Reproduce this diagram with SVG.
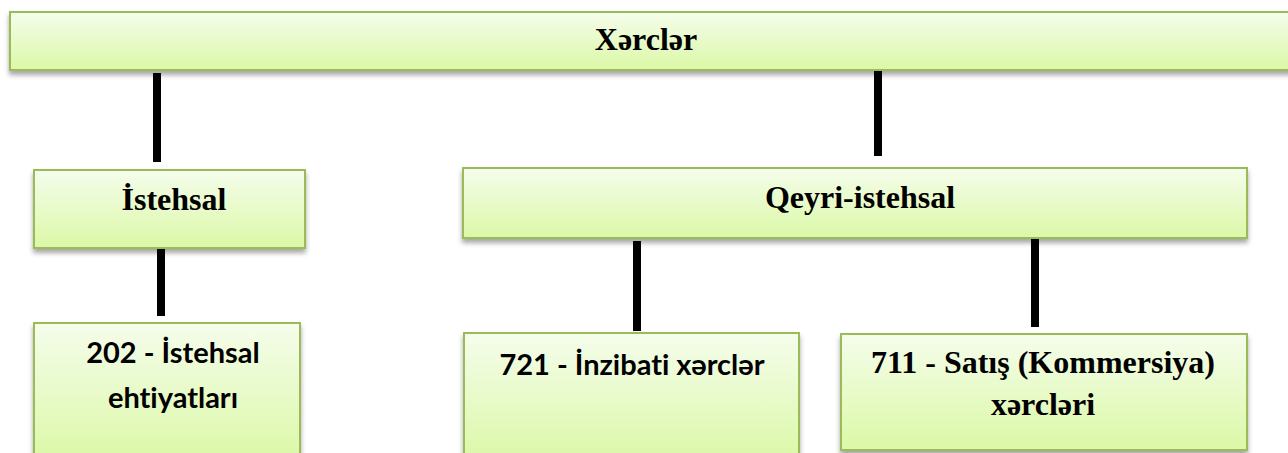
<svg xmlns="http://www.w3.org/2000/svg" width="1288" height="453" viewBox="0 0 1288 453">
<defs>
<linearGradient id="g" x1="0" y1="0" x2="0" y2="1">
<stop offset="0" stop-color="#f5fdec"/>
<stop offset="1" stop-color="#dbf8a6"/>
</linearGradient>
<filter id="sh" x="-5%" y="-20%" width="110%" height="150%">
<feDropShadow dx="0" dy="4" stdDeviation="2.5" flood-color="#000" flood-opacity="0.35"/>
</filter>
<style>
.box{fill:url(#g);stroke:#9bbb59;stroke-width:2;filter:url(#sh)}
.t{font-family:"Liberation Serif",serif;font-weight:bold;font-size:32px;fill:#000;text-anchor:middle}
.c{font-family:Lato,"Open Sans",sans-serif;font-weight:bold;font-size:29px;fill:#000;text-anchor:middle;font-variant-ligatures:none}
.ln{stroke:#000;stroke-width:8;fill:none}
</style>
</defs>
<g id="connectors">
<line class="ln" x1="157" y1="73" x2="157" y2="162"/>
<line class="ln" x1="878" y1="66" x2="878" y2="156"/>
<line class="ln" x1="161" y1="241" x2="161" y2="316"/>
<line class="ln" x1="637" y1="241" x2="637" y2="331"/>
<line class="ln" x1="1035" y1="238" x2="1035" y2="327"/>
</g>
<g id="n-xerclar">
<rect class="box" x="10" y="12" width="1290" height="58"/>
<text class="t" x="646" y="50">Xərclər</text>
</g>
<g id="n-istehsal">
<rect class="box" x="34" y="170" width="271" height="78"/>
<text class="t" x="174" y="210">İstehsal</text>
</g>
<g id="n-qeyri">
<rect class="box" x="463" y="168" width="784" height="70"/>
<text class="t" x="860" y="208">Qeyri-istehsal</text>
</g>
<g id="n-202">
<rect class="box" x="34" y="323" width="266" height="140"/>
<text class="c" x="173" y="363">202 - İstehsal</text>
<text class="c" x="173" y="408">ehtiyatları</text>
</g>
<g id="n-721">
<rect class="box" x="464" y="333" width="335" height="130"/>
<text class="c" x="632" y="375">721 - İnzibati xərclər</text>
</g>
<g id="n-711">
<rect class="box" x="841" y="334" width="406" height="116"/>
<text class="t" x="1043" y="373">711 - Satış (Kommersiya)</text>
<text class="t" x="1043" y="415">xərcləri</text>
</g>
</svg>
